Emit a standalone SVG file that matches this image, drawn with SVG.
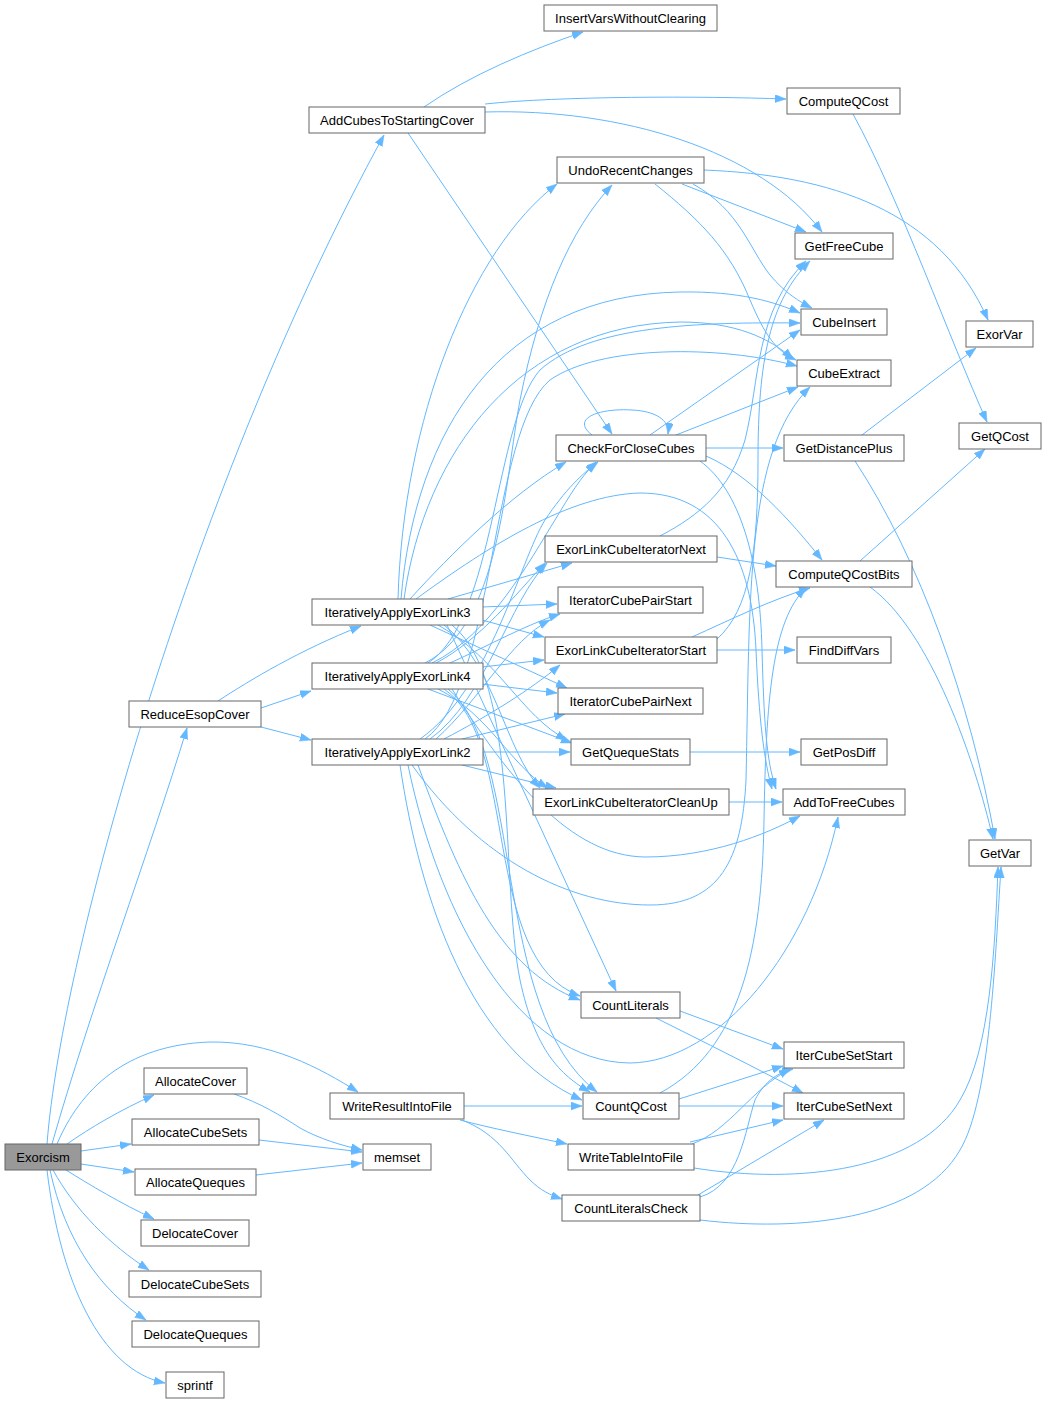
<svg xmlns="http://www.w3.org/2000/svg" width="1046" height="1404" viewBox="0 0 1046 1404">
<defs>
<marker id="arr" markerUnits="userSpaceOnUse" markerWidth="12" markerHeight="9" refX="11" refY="4" orient="auto">
<path d="M0,0 L11,4 L0,8 z" fill="#63b8ff" stroke="#63b8ff" stroke-width="0.5"/>
</marker>
<style>
.node rect{fill:#ffffff;stroke:#666666;stroke-width:1}
.node.root rect{fill:#999999}
.node text{font-family:"Liberation Sans",Arial,Helvetica,sans-serif;font-size:13px;text-anchor:middle;fill:#000000}
.edges path{fill:none;stroke:#63b8ff;stroke-width:1;marker-end:url(#arr)}
</style>
</defs>
<rect x="0" y="0" width="1046" height="1404" fill="#ffffff"/>
<g class="edges" id="edges">
<!-- Exorcism -->
<path d="M47,1144 C62,950 195,480 384,135"/>
<path d="M52,1144 C90,1010 150,850 187,728"/>
<path d="M57,1144 C80,1090 125,1045 210,1042 C270,1041 320,1068 358,1092"/>
<path d="M67,1144 C90,1128 120,1110 154,1095"/>
<path d="M81,1151 L131,1144"/>
<path d="M81,1164 L134,1172"/>
<path d="M66,1170 C90,1185 120,1203 154,1219"/>
<path d="M53,1170 C75,1210 110,1245 149,1270"/>
<path d="M50,1170 C65,1240 100,1290 146,1320"/>
<path d="M47,1170 C60,1280 100,1370 165,1383"/>
<!-- memset -->
<path d="M234,1094 C260,1103 280,1115 300,1128 C320,1139 340,1145 362,1150"/>
<path d="M259,1140 L362,1152"/>
<path d="M256,1175 L362,1163"/>
<!-- ReduceEsopCover -->
<path d="M218,701 C250,680 300,650 361,626"/>
<path d="M261,708 L311,691"/>
<path d="M261,727 L311,740"/>
<!-- AddCubesToStartingCover -->
<path d="M424,107 C470,75 530,50 583,32"/>
<path d="M485,104 C560,96 700,96 786,99"/>
<path d="M485,112 C620,108 760,150 822,232"/>
<path d="M408,133 L612,434"/>
<!-- ComputeQCost -->
<path d="M853,114 C900,200 950,340 987,422"/>
<!-- UndoRecentChanges -->
<path d="M704,170 C830,175 940,210 988,320"/>
<path d="M682,184 L806,232"/>
<path d="M693,184 C740,210 750,250 770,275 C785,293 800,302 812,308"/>
<path d="M655,184 C700,220 730,250 750,300 C765,335 775,350 796,360"/>
<!-- CheckForCloseCubes -->
<path d="M592,435 C570,418 600,408 632,410 C655,411 670,420 668,434"/>
<path d="M650,435 L800,330"/>
<path d="M676,435 L798,387"/>
<path d="M706,448 L783,448"/>
<path d="M706,456 C750,475 790,520 822,560"/>
<path d="M700,461 C740,490 760,560 762,650 C764,720 766,760 776,789"/>
<!-- GetDistancePlus -->
<path d="M862,435 L976,348"/>
<path d="M855,461 C920,560 970,700 995,839"/>
<!-- ComputeQCostBits -->
<path d="M860,561 L985,449"/>
<path d="M870,587 C930,630 975,760 993,839"/>
<!-- ExorLinkCubeIterator* -->
<path d="M660,536 C700,515 730,490 745,440 C760,380 755,310 806,261"/>
<path d="M717,557 L776,566"/>
<path d="M717,650 L795,650"/>
<path d="M692,637 C730,620 770,600 810,588"/>
<path d="M717,639 C750,610 758,550 758,460 C758,360 770,300 810,261"/>
<path d="M729,802 L782,802"/>
<path d="M690,752 L800,752"/>
<!-- CountLiterals / CountQCost -->
<path d="M680,1011 L783,1049"/>
<path d="M656,1018 C700,1040 760,1070 803,1093"/>
<path d="M679,1099 L783,1066"/>
<path d="M679,1106 L783,1106"/>
<path d="M660,1093 C740,1050 762,950 764,820 C766,700 772,620 806,588"/>
<!-- WriteResultIntoFile -->
<path d="M464,1106 L582,1106"/>
<path d="M460,1120 C490,1128 530,1136 567,1144"/>
<path d="M462,1120 C500,1135 510,1160 530,1180 C540,1190 550,1195 562,1199"/>
<!-- WriteTableIntoFile -->
<path d="M692,1144 C730,1130 750,1090 790,1069"/>
<path d="M690,1142 L783,1120"/>
<path d="M694,1168 C800,1185 920,1170 960,1100 C990,1050 995,950 998,867"/>
<!-- CountLiteralsCheck -->
<path d="M700,1197 C740,1185 745,1130 755,1100 C765,1080 780,1072 793,1069"/>
<path d="M698,1195 L824,1120"/>
<path d="M700,1220 C800,1232 920,1220 960,1150 C990,1100 995,960 1001,867"/>
<!-- IterativelyApplyExorLink3 -->
<path d="M398,599 C403,420 470,250 557,184"/>
<path d="M401,599 C415,430 500,295 680,292 C740,291 775,302 800,313"/>
<path d="M404,599 C425,450 520,325 680,322 C735,322 770,338 793,359"/>
<path d="M410,599 C450,555 510,495 566,462"/>
<path d="M416,599 C490,545 570,495 640,493 C720,493 752,560 756,650 C759,720 764,760 772,789"/>
<path d="M448,599 L572,563"/>
<path d="M482,607 L557,604"/>
<path d="M482,620 L544,637"/>
<path d="M430,625 L567,688"/>
<path d="M438,625 C500,660 520,715 567,740"/>
<path d="M444,625 C495,665 505,750 540,788"/>
<path d="M447,625 L616,991"/>
<path d="M452,625 C520,680 500,880 520,980 C535,1050 560,1075 590,1092"/>
<!-- IterativelyApplyExorLink4 -->
<path d="M425,663 C500,625 505,480 520,400 C540,300 570,230 612,185"/>
<path d="M432,663 C490,635 530,560 555,520 C570,495 580,478 596,462"/>
<path d="M428,663 C495,620 495,420 540,370 C590,325 700,322 800,323"/>
<path d="M436,663 C480,640 515,595 545,563"/>
<path d="M450,663 C490,645 525,625 560,614"/>
<path d="M482,667 L544,660"/>
<path d="M482,684 L557,693"/>
<path d="M428,689 L572,743"/>
<path d="M438,689 C490,715 510,765 548,788"/>
<path d="M444,689 C520,740 480,960 580,996"/>
<path d="M448,689 C525,750 490,1010 597,1092"/>
<path d="M452,689 C510,780 570,856 645,857 C710,857 765,835 800,816"/>
<!-- IterativelyApplyExorLink2 -->
<path d="M420,739 C490,690 520,560 545,520 C565,490 582,474 598,462"/>
<path d="M425,739 C495,690 490,430 550,380 C600,345 720,345 797,366"/>
<path d="M430,739 C485,700 510,600 547,563"/>
<path d="M436,739 C480,700 510,640 550,620"/>
<path d="M444,739 C490,715 530,690 560,665"/>
<path d="M462,739 L565,714"/>
<path d="M482,752 L570,752"/>
<path d="M462,765 L556,788"/>
<path d="M418,765 C460,880 500,970 580,1000"/>
<path d="M400,765 C420,900 470,1050 582,1100"/>
<path d="M408,765 C440,920 520,1062 630,1063 C720,1062 810,950 838,817"/>
<path d="M412,765 C480,860 570,905 650,905 C720,905 742,860 746,780 C750,600 745,450 810,387"/>
</g>
<g class="node" id="InsertVarsWithoutClearing"><rect x="544" y="5" width="173" height="26"/><text x="630.5" y="22.5">InsertVarsWithoutClearing</text></g>
<g class="node" id="ComputeQCost"><rect x="787" y="88" width="113" height="26"/><text x="843.5" y="105.5">ComputeQCost</text></g>
<g class="node" id="AddCubesToStartingCover"><rect x="309" y="107" width="176" height="26"/><text x="397" y="124.5">AddCubesToStartingCover</text></g>
<g class="node" id="UndoRecentChanges"><rect x="557" y="157" width="147" height="26"/><text x="630.5" y="174.5">UndoRecentChanges</text></g>
<g class="node" id="GetFreeCube"><rect x="795" y="233" width="98" height="26"/><text x="844" y="250.5">GetFreeCube</text></g>
<g class="node" id="CubeInsert"><rect x="801" y="309" width="86" height="26"/><text x="844" y="326.5">CubeInsert</text></g>
<g class="node" id="ExorVar"><rect x="966" y="321" width="67" height="26"/><text x="999.5" y="338.5">ExorVar</text></g>
<g class="node" id="CubeExtract"><rect x="797" y="360" width="94" height="26"/><text x="844" y="377.5">CubeExtract</text></g>
<g class="node" id="GetQCost"><rect x="959" y="423" width="82" height="26"/><text x="1000" y="440.5">GetQCost</text></g>
<g class="node" id="CheckForCloseCubes"><rect x="556" y="435" width="150" height="26"/><text x="631" y="452.5">CheckForCloseCubes</text></g>
<g class="node" id="GetDistancePlus"><rect x="784" y="435" width="120" height="26"/><text x="844" y="452.5">GetDistancePlus</text></g>
<g class="node" id="ExorLinkCubeIteratorNext"><rect x="545" y="536" width="172" height="26"/><text x="631" y="553.5">ExorLinkCubeIteratorNext</text></g>
<g class="node" id="ComputeQCostBits"><rect x="776" y="561" width="136" height="26"/><text x="844" y="578.5">ComputeQCostBits</text></g>
<g class="node" id="IterativelyApplyExorLink3"><rect x="312" y="599" width="171" height="26"/><text x="397.5" y="616.5">IterativelyApplyExorLink3</text></g>
<g class="node" id="IteratorCubePairStart"><rect x="558" y="587" width="145" height="26"/><text x="630.5" y="604.5">IteratorCubePairStart</text></g>
<g class="node" id="ExorLinkCubeIteratorStart"><rect x="545" y="637" width="172" height="26"/><text x="631" y="654.5">ExorLinkCubeIteratorStart</text></g>
<g class="node" id="FindDiffVars"><rect x="797" y="637" width="94" height="26"/><text x="844" y="654.5">FindDiffVars</text></g>
<g class="node" id="IterativelyApplyExorLink4"><rect x="312" y="663" width="171" height="26"/><text x="397.5" y="680.5">IterativelyApplyExorLink4</text></g>
<g class="node" id="IteratorCubePairNext"><rect x="558" y="688" width="145" height="26"/><text x="630.5" y="705.5">IteratorCubePairNext</text></g>
<g class="node" id="ReduceEsopCover"><rect x="129" y="701" width="132" height="26"/><text x="195" y="718.5">ReduceEsopCover</text></g>
<g class="node" id="IterativelyApplyExorLink2"><rect x="312" y="739" width="171" height="26"/><text x="397.5" y="756.5">IterativelyApplyExorLink2</text></g>
<g class="node" id="GetQuequeStats"><rect x="571" y="739" width="119" height="26"/><text x="630.5" y="756.5">GetQuequeStats</text></g>
<g class="node" id="GetPosDiff"><rect x="801" y="739" width="86" height="26"/><text x="844" y="756.5">GetPosDiff</text></g>
<g class="node" id="ExorLinkCubeIteratorCleanUp"><rect x="533" y="789" width="196" height="26"/><text x="631" y="806.5">ExorLinkCubeIteratorCleanUp</text></g>
<g class="node" id="AddToFreeCubes"><rect x="783" y="789" width="122" height="26"/><text x="844" y="806.5">AddToFreeCubes</text></g>
<g class="node" id="GetVar"><rect x="969" y="840" width="62" height="26"/><text x="1000" y="857.5">GetVar</text></g>
<g class="node" id="CountLiterals"><rect x="581" y="992" width="99" height="26"/><text x="630.5" y="1009.5">CountLiterals</text></g>
<g class="node" id="IterCubeSetStart"><rect x="784" y="1042" width="120" height="26"/><text x="844" y="1059.5">IterCubeSetStart</text></g>
<g class="node" id="AllocateCover"><rect x="144" y="1068" width="103" height="26"/><text x="195.5" y="1085.5">AllocateCover</text></g>
<g class="node" id="WriteResultIntoFile"><rect x="330" y="1093" width="134" height="26"/><text x="397" y="1110.5">WriteResultIntoFile</text></g>
<g class="node" id="CountQCost"><rect x="583" y="1093" width="96" height="26"/><text x="631" y="1110.5">CountQCost</text></g>
<g class="node" id="IterCubeSetNext"><rect x="784" y="1093" width="120" height="26"/><text x="844" y="1110.5">IterCubeSetNext</text></g>
<g class="node" id="AllocateCubeSets"><rect x="132" y="1119" width="127" height="26"/><text x="195.5" y="1136.5">AllocateCubeSets</text></g>
<g class="node root" id="Exorcism"><rect x="5" y="1144" width="76" height="26"/><text x="43" y="1161.5">Exorcism</text></g>
<g class="node" id="memset"><rect x="363" y="1144" width="68" height="26"/><text x="397" y="1161.5">memset</text></g>
<g class="node" id="WriteTableIntoFile"><rect x="568" y="1144" width="126" height="26"/><text x="631" y="1161.5">WriteTableIntoFile</text></g>
<g class="node" id="AllocateQueques"><rect x="135" y="1169" width="121" height="26"/><text x="195.5" y="1186.5">AllocateQueques</text></g>
<g class="node" id="CountLiteralsCheck"><rect x="562" y="1195" width="138" height="26"/><text x="631" y="1212.5">CountLiteralsCheck</text></g>
<g class="node" id="DelocateCover"><rect x="141" y="1220" width="108" height="26"/><text x="195" y="1237.5">DelocateCover</text></g>
<g class="node" id="DelocateCubeSets"><rect x="129" y="1271" width="132" height="26"/><text x="195" y="1288.5">DelocateCubeSets</text></g>
<g class="node" id="DelocateQueques"><rect x="132" y="1321" width="127" height="26"/><text x="195.5" y="1338.5">DelocateQueques</text></g>
<g class="node" id="sprintf"><rect x="166" y="1372" width="58" height="26"/><text x="195" y="1389.5">sprintf</text></g>
</svg>
